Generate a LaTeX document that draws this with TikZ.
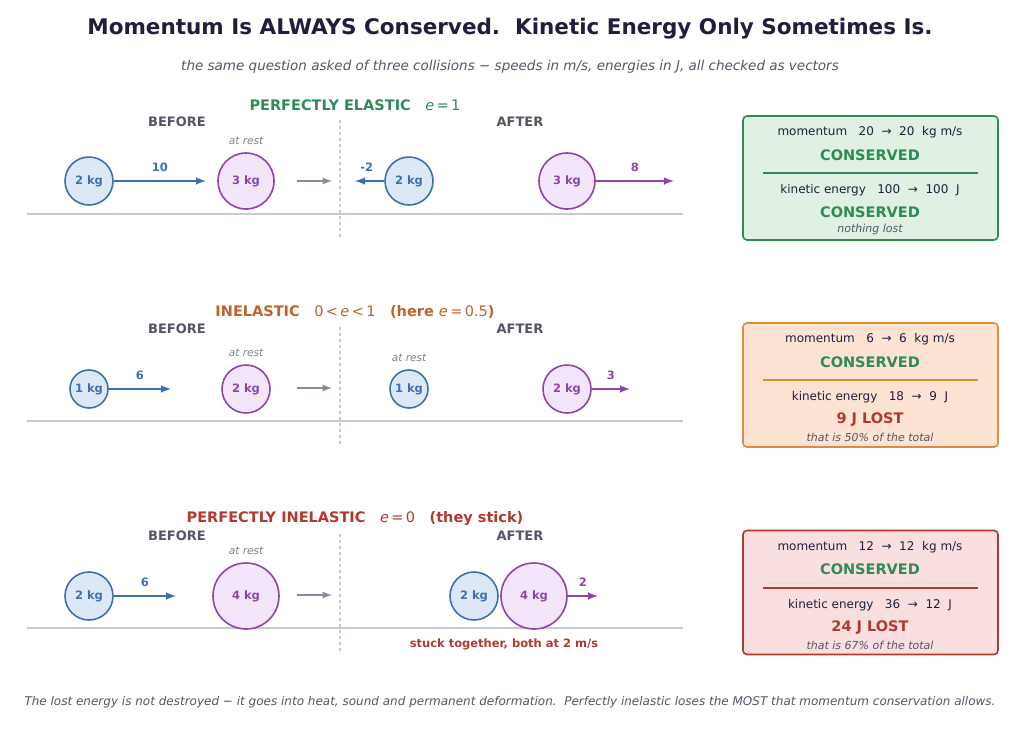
\documentclass[tikz,border=0pt]{standalone}
\usepackage{fontspec}
\setmainfont{DejaVu Sans}
\usetikzlibrary{positioning}
\definecolor{ink}{HTML}{1F1F3D}
\definecolor{sub}{HTML}{555566}
\definecolor{bblue}{HTML}{3F6FB0}
\definecolor{bbluefill}{HTML}{DCE8F6}
\definecolor{bpurp}{HTML}{8E44AD}
\definecolor{bpurpfill}{HTML}{F3E6FA}
\definecolor{okgreen}{HTML}{2E8B57}
\definecolor{okfill}{HTML}{E0F0E2}
\definecolor{inorange}{HTML}{C0622A}
\definecolor{inborder}{HTML}{E08A3C}
\definecolor{infill}{HTML}{FDE3D3}
\definecolor{lossred}{HTML}{B03A2E}
\definecolor{lossfill}{HTML}{F9DFE0}
\definecolor{grnd}{HTML}{C8C8D8}
\definecolor{push}{HTML}{8A8A9E}
\tikzset{
  ballA/.style={circle,draw=bblue,fill=bbluefill,line width=1.6pt,inner sep=0pt,
    minimum size=#1,font=\fontsize{11.5}{13}\selectfont\bfseries,text=bblue},
  ballB/.style={circle,draw=bpurp,fill=bpurpfill,line width=1.6pt,inner sep=0pt,
    minimum size=#1,font=\fontsize{11.5}{13}\selectfont\bfseries,text=bpurp},
  vel/.style={-latex,line width=2.4pt},
  vlabel/.style={font=\fontsize{11.5}{13}\selectfont\bfseries},
  phase/.style={font=\fontsize{13}{15}\selectfont\bfseries,text=sub},
  rest/.style={font=\fontsize{10.5}{12}\selectfont\itshape,text=gray},
  rowtitle/.style={font=\fontsize{14.5}{17}\selectfont\bfseries},
  result/.style={rounded corners=4pt,line width=1.6pt,minimum width=255pt,minimum height=124pt},
  boxline/.style={font=\fontsize{12}{14}\selectfont,text=ink},
  verdict/.style={font=\fontsize{14.5}{17}\selectfont\bfseries},
  note/.style={font=\fontsize{11}{13}\selectfont\itshape,text=sub},
}
\begin{document}
\begin{tikzpicture}[x=1pt,y=-1pt]
  \useasboundingbox (0,0) rectangle (1024,729);
  \node[font=\fontsize{21.5}{25}\selectfont\bfseries,text=ink] (title) at (510,29) {Momentum Is ALWAYS Conserved.\ \ Kinetic Energy Only Sometimes Is.};
  \node[font=\fontsize{13.5}{16}\selectfont\itshape,text=sub] (subtitle) at (510,67) {the same question asked of three collisions − speeds in m/s, energies in J, all checked as vectors};

  % common frame of the three rows
  \foreach \dy/\ry in {0/141,207/353,414/551} {
    \draw[grnd,line width=1.2pt] (27,214+\dy) -- (683,214+\dy);
    \draw[grnd,line width=1.2pt,dashed] (340,120+\dy) -- (340,238+\dy);
    \node[phase] at (177,122+\dy) {BEFORE};
    \node[phase] at (520,122+\dy) {AFTER};
    \node[rest] at (246,\ry) {at rest};
    \draw[-latex,line width=2.2pt,push] (297,181+\dy) -- (332,181+\dy);
  }

  % perfectly elastic
  \node[rowtitle,text=okgreen] (t1) at (355,105) {PERFECTLY ELASTIC\quad \mdseries\itshape e\upshape\,=\,1};
  \node[ballA=48pt] (a1) at (89,181) {2 kg};
  \node[ballB=56pt] (b1) at (246,181) {3 kg};
  \coordinate (a1v) at (206,181);
  \draw[vel,bblue] (a1) -- node[vlabel,above=5pt,text=bblue] {10} (a1v);
  \node[ballA=48pt] (a1p) at (409,181) {2 kg};
  \coordinate (a1pv) at (355,181);
  \draw[vel,bblue] (a1p) -- node[vlabel,above=5pt,text=bblue,pos=0.6] {-2} (a1pv);
  \node[ballB=56pt] (b1p) at (567,181) {3 kg};
  \coordinate (b1pv) at (674,181);
  \draw[vel,bpurp] (b1p) -- node[vlabel,above=5pt,text=bpurp] {8} (b1pv);
  \node[result,draw=okgreen,fill=okfill] (r1) at (870.5,178) {};
  \node[boxline] at (870,132) {momentum\ \ \ 20\ \ →\ \ 20\ \ kg m/s};
  \node[verdict,text=okgreen] at (870,155) {CONSERVED};
  \draw[okgreen,line width=1.2pt] (763,173) -- (978,173);
  \node[boxline] at (870,190) {kinetic energy\ \ \ 100\ \ →\ \ 100\ \ J};
  \node[verdict,text=okgreen] at (870,212) {CONSERVED};
  \node[note] at (870,229) {nothing lost};

  % inelastic
  \node[rowtitle,text=inorange] (t2) at (355,312) {INELASTIC\quad \mdseries 0\,<\,\itshape e\upshape\,<\,1\quad \bfseries(here \mdseries\itshape e\upshape\,=\,0.5\bfseries)};
  \node[ballA=38pt] (a2) at (89,389) {1 kg};
  \node[ballB=48pt] (b2) at (246,389) {2 kg};
  \coordinate (a2v) at (171,389);
  \draw[vel,bblue] (a2) -- node[vlabel,above=5pt,text=bblue] {6} (a2v);
  \node[ballA=38pt] (a2p) at (409,389) {1 kg};
  \node[rest] at (409,358) {at rest};
  \node[ballB=48pt] (b2p) at (567,389) {2 kg};
  \coordinate (b2pv) at (630,389);
  \draw[vel,bpurp] (b2p) -- node[vlabel,above=5pt,text=bpurp] {3} (b2pv);
  \node[result,draw=inborder,fill=infill] (r2) at (870.5,385) {};
  \node[boxline] at (870,339) {momentum\ \ \ 6\ \ →\ \ 6\ \ kg m/s};
  \node[verdict,text=okgreen] at (870,362) {CONSERVED};
  \draw[inborder,line width=1.2pt] (763,380) -- (978,380);
  \node[boxline] at (870,397) {kinetic energy\ \ \ 18\ \ →\ \ 9\ \ J};
  \node[verdict,text=lossred] at (870,420) {9 J LOST};
  \node[note] at (870,437) {that is 50\% of the total};

  % perfectly inelastic
  \node[rowtitle,text=lossred] (t3) at (355,519) {PERFECTLY INELASTIC\quad \mdseries\itshape e\upshape\,=\,0\quad \bfseries(they stick)};
  \node[ballA=48pt] (a3) at (89,596) {2 kg};
  \node[ballB=66pt] (b3) at (246,596) {4 kg};
  \coordinate (a3v) at (176,596);
  \draw[vel,bblue] (a3) -- node[vlabel,above=5pt,text=bblue] {6} (a3v);
  \node[ballA=48pt] (a3p) at (474,596) {2 kg};
  \node[ballB=66pt] (b3p) at (534,596) {4 kg};
  \coordinate (b3pv) at (598,596);
  \draw[vel,bpurp] (b3p) -- node[vlabel,above=5pt,text=bpurp] {2} (b3pv);
  \node[font=\fontsize{11.5}{13}\selectfont\bfseries,text=lossred] (stuck) at (504,644) {stuck together, both at 2 m/s};
  \node[result,draw=lossred,fill=lossfill] (r3) at (870.5,592.5) {};
  \node[boxline] at (870,547) {momentum\ \ \ 12\ \ →\ \ 12\ \ kg m/s};
  \node[verdict,text=okgreen] at (870,569) {CONSERVED};
  \draw[lossred,line width=1.2pt] (763,588) -- (978,588);
  \node[boxline] at (870,605) {kinetic energy\ \ \ 36\ \ →\ \ 12\ \ J};
  \node[verdict,text=lossred] at (870,628) {24 J LOST};
  \node[note] at (870,645) {that is 67\% of the total};

  \node[font=\fontsize{12}{14}\selectfont\itshape,text=sub] (footer) at (510,702) {The lost energy is not destroyed − it goes into heat, sound and permanent deformation.\ \ Perfectly inelastic loses the MOST that momentum conservation allows.};
\end{tikzpicture}
\end{document}
